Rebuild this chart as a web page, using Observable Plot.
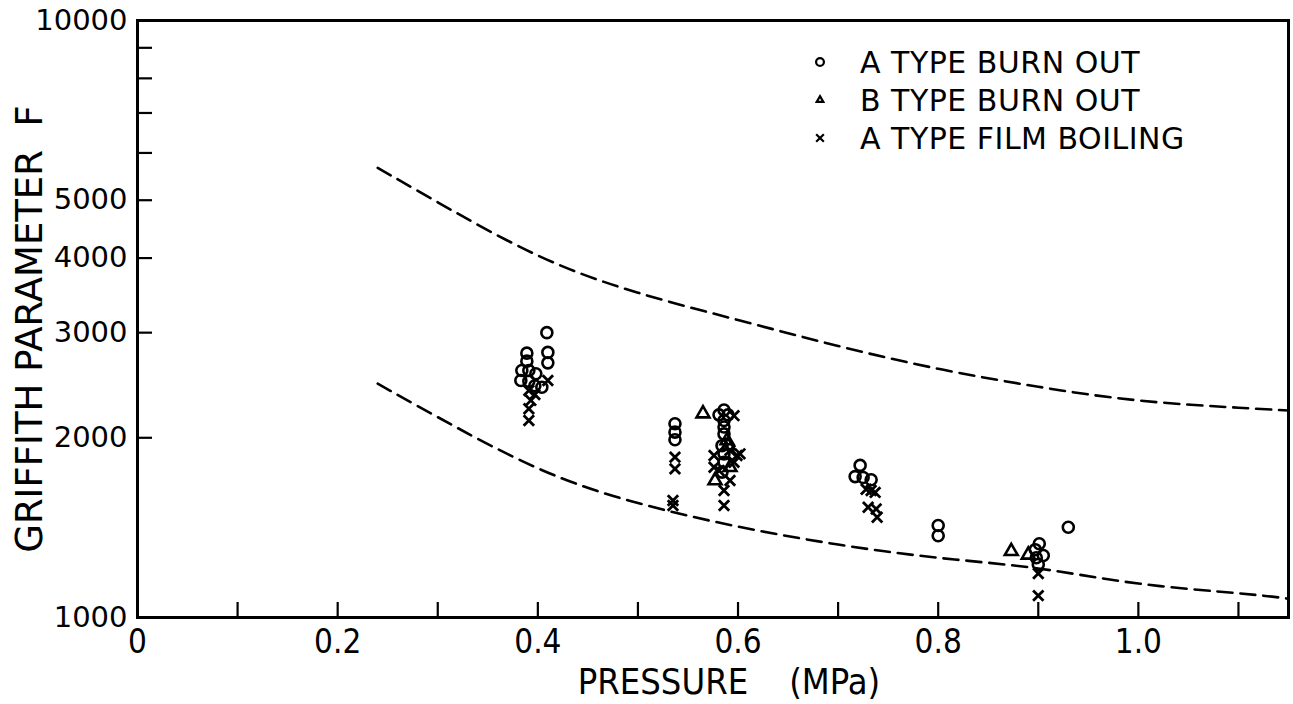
<!DOCTYPE html>
<html><head><meta charset="utf-8">
<script src="https://cdn.jsdelivr.net/npm/d3@7"></script>
<script src="https://cdn.jsdelivr.net/npm/@observablehq/plot@0.6"></script>
<style>
body{margin:0;background:#fff;}
#wrap{position:relative;width:1293px;height:704px;overflow:hidden;}
.lg{position:absolute;left:0;top:0;width:1293px;height:704px;pointer-events:none;}
.lgrow{position:absolute;height:38px;display:flex;align-items:center;font-family:"DejaVu Sans",sans-serif;font-size:30px;letter-spacing:0.5px;color:#000;white-space:pre;}
</style></head><body><div id="wrap"></div>
<script>
// ---- data ----
const xTicks = [0, 0.1, 0.2, 0.3, 0.4, 0.5, 0.6, 0.7, 0.8, 0.9, 1.0, 1.1];
const xLabels = [0, 0.2, 0.4, 0.6, 0.8, 1.0];
const yTicks = [1000, 2000, 3000, 4000, 5000, 6000, 7000, 8000, 9000, 10000];
const yLabels = [1000, 2000, 3000, 4000, 5000, 10000];

const seriesNames = ["A TYPE BURN OUT", "B TYPE BURN OUT", "A TYPE FILM BOILING"];

// A type burn out (circles)
const pA = [0.409, 0.410, 0.410, 0.389, 0.389, 0.384, 0.391, 0.398, 0.383, 0.391, 0.397, 0.404,
  0.537, 0.537, 0.537,
  0.586, 0.581, 0.590, 0.586, 0.586, 0.586, 0.584, 0.586, 0.586, 0.584,
  0.722, 0.717, 0.725, 0.733,
  0.800, 0.800,
  0.901, 0.897, 0.905, 0.898, 0.900, 0.930];
const fA = [3000, 2780, 2670, 2772, 2688, 2593, 2593, 2560, 2494, 2487, 2444, 2431,
  2111, 2044, 1985,
  2226, 2185, 2185, 2138, 2085, 2030, 1940, 1880, 1820, 1752,
  1798, 1722, 1716, 1701,
  1426, 1371,
  1329, 1299, 1270, 1259, 1227, 1416];

// B type burn out (triangles)
const pB = [0.565, 0.589, 0.590, 0.592, 0.577, 0.873, 0.890];
const fB = [2195, 1979, 1940, 1785, 1696, 1291, 1273];

// A type film boiling (crosses)
const pC = [0.410, 0.391, 0.397, 0.393, 0.391, 0.391,
  0.537, 0.537, 0.535, 0.535,
  0.596, 0.576, 0.592, 0.599, 0.602, 0.576, 0.596, 0.581, 0.592, 0.586, 0.586,
  0.728, 0.733, 0.737, 0.730, 0.738, 0.739,
  0.900, 0.900];
const fC = [2494, 2400, 2363, 2310, 2237, 2138,
  1856, 1774, 1570, 1540,
  2178, 1868, 1905, 1868, 1880, 1785, 1820, 1763, 1696, 1632, 1540,
  1640, 1632, 1620, 1530, 1520, 1472,
  1185, 1088];

// dashed boundary curves
const curveP = [0.24, 0.3, 0.4, 0.5, 0.6, 0.7, 0.8, 0.9, 1.0, 1.1, 1.15];
const upperF = [5666, 4960, 4040, 3500, 3150, 2850, 2610, 2435, 2310, 2246, 2222];
const lowerF = [2464, 2166, 1778, 1555, 1420, 1325, 1259, 1208, 1140, 1098, 1075];

const xTitle = "PRESSURE\u00a0\u00a0\u00a0\u00a0(MPa)";
const yTitle = "GRIFFITH PARAMETER\u00a0\u00a0F";

// ---- build ----
const A = pA.map((p, i) => ({p, f: fA[i]}));
const B = pB.map((p, i) => ({p, f: fB[i]}));
const C = pC.map((p, i) => ({p, f: fC[i]}));
const up = curveP.map((p, i) => ({p, f: upperF[i]}));
const lo = curveP.map((p, i) => ({p, f: lowerF[i]}));

const narrow = "'Liberation Sans Narrow','DejaVu Sans Condensed',sans-serif";

const chart = Plot.plot({
  width: 1293, height: 704,
  marginLeft: 137, marginRight: 5, marginTop: 20, marginBottom: 87,
  x: {domain: [0, 1.15]},
  y: {type: "log", domain: [1000, 10000]},
  style: {background: "#fff", color: "#000", fontFamily: "DejaVu Sans, sans-serif"},
  marks: [
    Plot.line(up, {x: "p", y: "f", curve: "natural", stroke: "#000", strokeWidth: 2.6, strokeDasharray: "15,8"}),
    Plot.line(lo, {x: "p", y: "f", curve: "natural", stroke: "#000", strokeWidth: 2.6, strokeDasharray: "15,8"}),
    Plot.dot(A, {x: "p", y: "f", symbol: "circle", r: 5.5, stroke: "#000", strokeWidth: 2.6, fill: "none"}),
    Plot.dot(B, {x: "p", y: "f", symbol: "triangle", r: 4.8, stroke: "#000", strokeWidth: 2.6, fill: "none"}),
    Plot.dot(C, {x: "p", y: "f", symbol: "times", r: 4.8, stroke: "#000", strokeWidth: 2.8, fill: "none"}),
    Plot.axisX(xTicks, {tickSize: -15, tickFormat: () => "", strokeWidth: 2.2, label: null}),
    Plot.axisX(xLabels, {tickSize: 0, tickPadding: 12, label: null,
      tickFormat: d => d === 0 ? "0" : d3.format(".1f")(d), fontSize: 33, fontFamily: narrow}),
    Plot.axisY(yTicks, {tickSize: -15, tickFormat: () => "", strokeWidth: 2.2, label: null}),
    Plot.axisY(yLabels, {tickSize: 0, tickPadding: 10, label: null,
      tickFormat: d => String(d), fontSize: 29}),
    Plot.frame({stroke: "#000", strokeWidth: 3}),
    Plot.text([xTitle], {frameAnchor: "bottom", dx: 16, dy: 65, fontSize: 36, fontFamily: narrow, textAnchor: "middle", lineAnchor: "middle"}),
    Plot.text([yTitle], {frameAnchor: "left", dx: -107, dy: 10, rotate: -90, fontSize: 37, textAnchor: "middle", lineAnchor: "middle"})
  ]
});

const wrap = document.getElementById("wrap");
wrap.appendChild(chart);

// legend overlay
const symbols = [d3.symbolCircle, d3.symbolTriangle2, d3.symbolTimes];
const sizes = [48, 32, 40];
const lg = d3.select(wrap).append("div").attr("class", "lg");
seriesNames.forEach((name, i) => {
  const top = 43 + 38 * i;
  const s = lg.append("svg").attr("width", 30).attr("height", 38)
    .style("position", "absolute").style("left", "805px").style("top", top + "px");
  s.append("path").attr("transform", "translate(15,19)")
    .attr("d", d3.symbol(symbols[i], sizes[i])())
    .attr("fill", "none").attr("stroke", "#000").attr("stroke-width", 2.2);
  lg.append("div").attr("class", "lgrow").style("left", "860px").style("top", top + "px").text(name);
});
</script>
</body></html>
